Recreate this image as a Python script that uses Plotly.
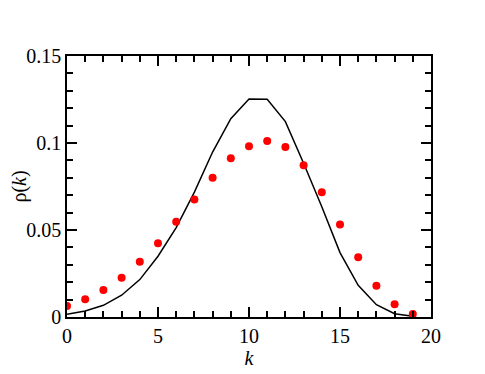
import plotly.graph_objects as go

k_values = list(range(20))
dots_rho = [0.0063, 0.0102, 0.0155, 0.0226, 0.0318, 0.0424, 0.0548, 0.0676, 0.0801, 0.0912,
            0.0981, 0.1012, 0.0977, 0.0872, 0.0717, 0.0531, 0.0343, 0.0180, 0.0073, 0.0017]
line_rho = [0.0016, 0.0035, 0.0067, 0.0125, 0.0215, 0.0349, 0.0514, 0.0718, 0.0948, 0.1140,
            0.1253, 0.1251, 0.1123, 0.0884, 0.0634, 0.0370, 0.0182, 0.0071, 0.0019, 0.0004]
x_range = [0, 20]
y_range = [0, 0.15]

font_family = "Liberation Serif"
tick_font = dict(family=font_family, size=20, color="black")

fig = go.Figure()
fig.add_trace(go.Scatter(x=k_values, y=line_rho, mode="lines",
                         line=dict(color="black", width=1.5), showlegend=False))
fig.add_trace(go.Scatter(x=k_values, y=dots_rho, mode="markers",
                         marker=dict(color="#ff0000", size=8, line=dict(width=0)), showlegend=False))

fig.update_xaxes(range=x_range, showline=True, linecolor="#000000", linewidth=1.5, mirror="ticks",
                 ticks="inside", ticklen=10, tickcolor="#000000", tickwidth=1.5,
                 tickmode="linear", tick0=0, dtick=5, showgrid=False, automargin=False,
                 minor=dict(ticks="inside", ticklen=6, tickcolor="#000000", tickwidth=1.5,
                            tickmode="linear", tick0=0, dtick=1, showgrid=False),
                 tickfont=tick_font, title=dict(text="<i>k</i>", font=tick_font, standoff=0))
fig.update_yaxes(range=y_range, showline=True, linecolor="#000000", linewidth=1.5, mirror="ticks",
                 ticks="inside", ticklen=10, tickcolor="#000000", tickwidth=1.5,
                 tickmode="linear", tick0=0, dtick=0.05, showgrid=False, automargin=False,
                 minor=dict(ticks="inside", ticklen=6, tickcolor="#000000", tickwidth=1.5,
                            tickmode="linear", tick0=0, dtick=0.01, showgrid=False),
                 tickfont=tick_font, title=dict(text="ρ(<i>k</i>)", font=tick_font, standoff=4))

fig.update_layout(
    width=477, height=366,
    margin=dict(l=59, r=54, t=48, b=57),
    plot_bgcolor="white", paper_bgcolor="white",
    font=dict(family=font_family, color="black"),
)

fig.write_html("out.html")
